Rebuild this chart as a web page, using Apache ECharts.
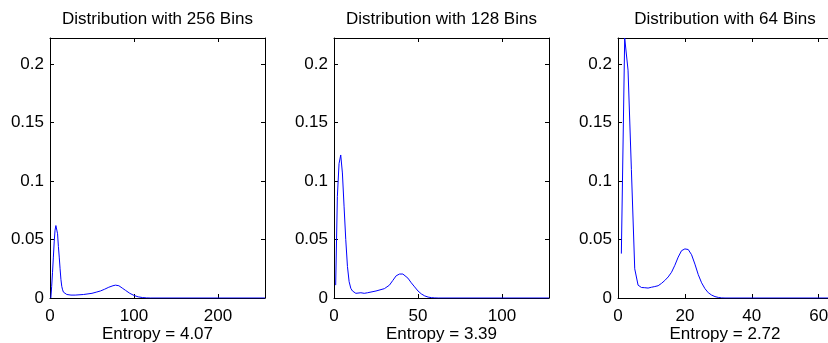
<!DOCTYPE html>
<html>
<head>
<meta charset="utf-8">
<script src="https://cdn.jsdelivr.net/npm/echarts@6/dist/echarts.min.js"></script>
<style>
  html, body { margin: 0; padding: 0; background: #fff; }
  #chart { width: 828px; height: 343px; }
</style>
</head>
<body>
<div id="chart"></div>
<script>
// panel titles and entropy captions
const titles = ['Distribution with 256 Bins', 'Distribution with 128 Bins', 'Distribution with 64 Bins']
const entropies = ['Entropy = 4.07', 'Entropy = 3.39', 'Entropy = 2.72']

// x ranges / tick steps per panel
const binCounts = [256, 128, 64]
const xSteps = [100, 50, 20]

// y axis shared by all panels
const yMax = 0.2225
const yStep = 0.05

// 256 bins
const x256 = [1, 2, 3, 4, 5, 6, 7, 8, 9, 10, 11, 12, 13, 14, 15, 16, 18, 20, 25, 30, 40, 50, 55, 60, 65, 70, 75, 78, 82, 86, 90, 95, 100, 105, 110, 115, 120, 256]
const y256 = [0, 0.01, 0.022, 0.035, 0.048, 0.058, 0.062, 0.061, 0.055, 0.044, 0.035, 0.025, 0.016, 0.01, 0.007, 0.005, 0.0035, 0.003, 0.0025, 0.0025, 0.003, 0.004, 0.005, 0.006, 0.0075, 0.0092, 0.0105, 0.011, 0.0105, 0.0085, 0.0065, 0.004, 0.0022, 0.001, 0.0004, 0.0001, 0, 0]

// 128 bins
const x128 = [1, 2, 3, 4, 5, 6, 7, 8, 9, 10, 11, 12, 13, 14, 16, 18, 20, 25, 30, 33, 35, 37, 38, 39, 40, 41, 42, 44, 46, 48, 50, 52, 54, 56, 58, 60, 62, 128]
const y128 = [0.011, 0.087, 0.115, 0.1224, 0.107, 0.078, 0.05, 0.027, 0.014, 0.0083, 0.006, 0.0045, 0.004, 0.0035, 0.0045, 0.004, 0.0045, 0.006, 0.008, 0.011, 0.015, 0.019, 0.0205, 0.0205, 0.02, 0.0205, 0.0195, 0.017, 0.013, 0.0095, 0.006, 0.0035, 0.0018, 0.0008, 0.0003, 0.0001, 0, 0]

// 64 bins
const x64 = [1, 2, 3, 4, 5, 6, 7, 8, 9, 10, 11, 12, 13, 14, 15, 16, 17, 18, 19, 20, 21, 22, 23, 24, 25, 26, 27, 28, 29, 30, 31, 32, 64]
const y64 = [0.038, 0.2225, 0.195, 0.11, 0.025, 0.011, 0.009, 0.0088, 0.0085, 0.0092, 0.0098, 0.0105, 0.0125, 0.015, 0.018, 0.022, 0.028, 0.035, 0.0405, 0.042, 0.0415, 0.037, 0.029, 0.02, 0.013, 0.008, 0.0045, 0.0025, 0.0012, 0.0005, 0.0001, 0, 0]

const panelX = [x256, x128, x64]
const panelY = [y256, y128, y64]

const gridLefts = [50, 334, 618]
const gridWidths = [215, 215, 214]
const fontFamily = 'Liberation Sans, Arial, sans-serif'
const fontSize = 17

const tick = { show: true, inside: true, length: 4, lineStyle: { color: '#000', width: 1 } }
const line = { show: true, onZero: false, lineStyle: { color: '#000', width: 1 } }

const grid = []
const xAxis = []
const yAxis = []
const series = []
const graphic = []

binCounts.forEach((count, i) => {
  grid.push({
    left: gridLefts[i], width: gridWidths[i], top: 38, height: 260,
    outerBoundsMode: 'none', containLabel: false,
  })

  xAxis.push({
    type: 'value', gridIndex: i, position: 'bottom',
    min: 0, max: count, interval: xSteps[i],
    axisLine: line, axisTick: tick, splitLine: { show: false },
    axisLabel: { color: '#000', fontSize, fontFamily, margin: 10, showMaxLabel: false },
  })
  xAxis.push({
    type: 'value', gridIndex: i, position: 'top',
    min: 0, max: count, interval: xSteps[i],
    axisLine: line, axisTick: tick, splitLine: { show: false },
    axisLabel: { show: false },
    name: titles[i], nameLocation: 'middle', nameGap: 10,
    nameTextStyle: { color: '#000', fontSize, fontFamily },
  })

  yAxis.push({
    type: 'value', gridIndex: i, position: 'left',
    min: 0, max: yMax, interval: yStep,
    axisLine: line, axisTick: tick, splitLine: { show: false },
    axisLabel: { color: '#000', fontSize, fontFamily, margin: 6, showMaxLabel: false },
  })
  yAxis.push({
    type: 'value', gridIndex: i, position: 'right',
    min: 0, max: yMax, interval: yStep,
    axisLine: line, axisTick: tick, splitLine: { show: false },
    axisLabel: { show: false },
  })

  // entropy caption under each panel
  graphic.push({
    type: 'text',
    x: gridLefts[i] + gridWidths[i] / 2,
    y: 334,
    style: {
      text: entropies[i],
      fill: '#000',
      font: fontSize + 'px ' + fontFamily,
      align: 'center',
      verticalAlign: 'middle',
    },
  })

  series.push({
    type: 'line',
    xAxisIndex: i * 2,
    yAxisIndex: i * 2,
    data: panelX[i].map((x, k) => [x, panelY[i][k]]),
    showSymbol: false,
    symbol: 'none',
    smooth: false,
    clip: true,
    lineStyle: { color: '#0000ff', width: 1 },
  })
})

const chart = echarts.init(document.getElementById('chart'), null, { renderer: 'canvas' })
chart.setOption({
  animation: false,
  backgroundColor: '#fff',
  grid,
  xAxis,
  yAxis,
  series,
  graphic,
})
</script>
</body>
</html>
